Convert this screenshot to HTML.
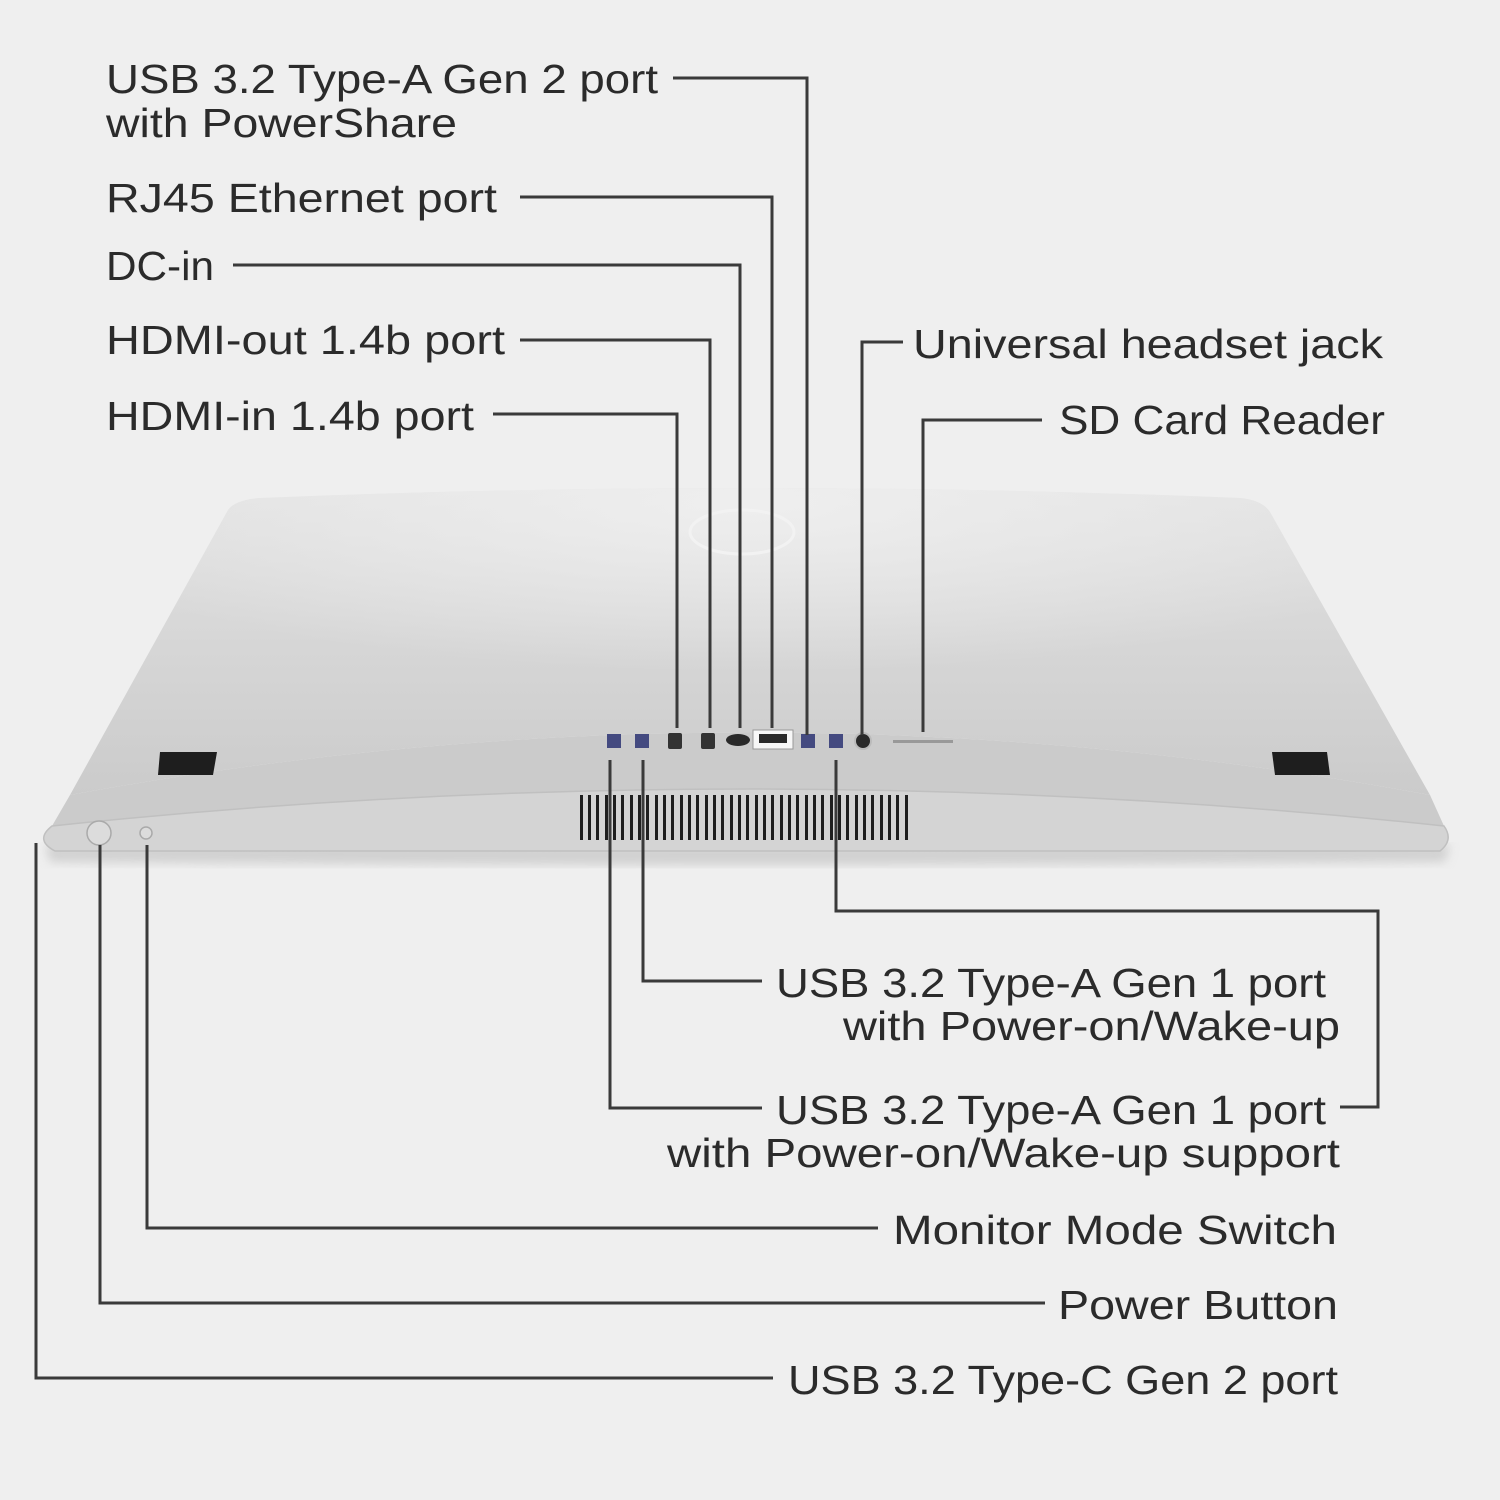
<!DOCTYPE html>
<html><head><style>
html,body{margin:0;padding:0;background:#efefef;}
svg{display:block;}
text{font-family:"Liberation Sans",sans-serif;font-size:41px;fill:#2b2b2b;}
</style></head><body>
<svg width="1500" height="1500" viewBox="0 0 1500 1500" xmlns="http://www.w3.org/2000/svg">
<defs>
<linearGradient id="top" x1="0" y1="0" x2="0" y2="1">
<stop offset="0" stop-color="#e2e2e2"/><stop offset="1" stop-color="#cbcbcb"/>
</linearGradient>
<radialGradient id="glow" cx="0.5" cy="0.05" r="0.55">
<stop offset="0" stop-color="#f0f0f0" stop-opacity="0.9"/><stop offset="1" stop-color="#f0f0f0" stop-opacity="0"/>
</radialGradient>
<filter id="sh" x="-5%" y="-5%" width="110%" height="120%"><feGaussianBlur stdDeviation="5"/></filter>
</defs>
<rect width="1500" height="1500" fill="#efefef"/>
<path d="M45,845 Q750,842 1450,845 L1445,862 Q750,868 50,862 Z" fill="#bdbdbd" filter="url(#sh)" opacity="0.6"/>
<!-- top surface -->
<path d="M228,510 Q235,500 260,498 Q750,478 1240,498 Q1262,500 1270,512 L1430,795 Q750,670 70,795 Z" fill="url(#top)"/>
<path d="M228,510 Q235,500 260,498 Q750,478 1240,498 Q1262,500 1270,512 L1430,795 Q750,670 70,795 Z" fill="url(#glow)"/>
<!-- front band -->
<path d="M70,795 Q750,670 1430,795 L1444,826 Q750,752 52,826 Z" fill="#cbcbcb"/>
<!-- lower lip -->
<path d="M52,826 Q750,752 1444,826 Q1454,840 1440,851 Q750,854 55,851 Q34,840 52,826 Z" fill="#d4d4d4" stroke="#c0c0c0" stroke-width="1.5"/>
<ellipse cx="742" cy="532" rx="52" ry="22" fill="none" stroke="#f2f2f2" stroke-width="3"/>
<path d="M160,752 L217,752 L213,775 L158,775 Z" fill="#1e1e1e"/>
<path d="M1272,752 L1327,752 L1330,775 L1275,775 Z" fill="#1e1e1e"/>
<g fill="#1e1e1e">
<rect x="580" y="795" width="3" height="45"/><rect x="588" y="795" width="3" height="45"/><rect x="596" y="795" width="3" height="45"/><rect x="605" y="795" width="3" height="45"/><rect x="613" y="795" width="3" height="45"/><rect x="621" y="795" width="3" height="45"/><rect x="630" y="795" width="3" height="45"/><rect x="638" y="795" width="3" height="45"/><rect x="646" y="795" width="3" height="45"/><rect x="655" y="795" width="3" height="45"/><rect x="663" y="795" width="3" height="45"/><rect x="671" y="795" width="3" height="45"/><rect x="680" y="795" width="3" height="45"/><rect x="688" y="795" width="3" height="45"/><rect x="696" y="795" width="3" height="45"/><rect x="705" y="795" width="3" height="45"/><rect x="713" y="795" width="3" height="45"/><rect x="721" y="795" width="3" height="45"/><rect x="730" y="795" width="3" height="45"/><rect x="738" y="795" width="3" height="45"/><rect x="746" y="795" width="3" height="45"/><rect x="755" y="795" width="3" height="45"/><rect x="763" y="795" width="3" height="45"/><rect x="771" y="795" width="3" height="45"/><rect x="780" y="795" width="3" height="45"/><rect x="788" y="795" width="3" height="45"/><rect x="796" y="795" width="3" height="45"/><rect x="805" y="795" width="3" height="45"/><rect x="813" y="795" width="3" height="45"/><rect x="821" y="795" width="3" height="45"/><rect x="830" y="795" width="3" height="45"/><rect x="838" y="795" width="3" height="45"/><rect x="846" y="795" width="3" height="45"/><rect x="855" y="795" width="3" height="45"/><rect x="863" y="795" width="3" height="45"/><rect x="871" y="795" width="3" height="45"/><rect x="880" y="795" width="3" height="45"/><rect x="888" y="795" width="3" height="45"/><rect x="896" y="795" width="3" height="45"/><rect x="905" y="795" width="3" height="45"/>
</g>
<g>
<rect x="607" y="734" width="14" height="14" fill="#444a80"/><rect x="635" y="734" width="14" height="14" fill="#444a80"/>
<rect x="668" y="733" width="14" height="16" rx="2" fill="#333"/><rect x="701" y="733" width="14" height="16" rx="2" fill="#333"/>
<ellipse cx="738" cy="740" rx="12" ry="6" fill="#2a2a2a"/>
<rect x="753" y="730" width="40" height="19" fill="#f7f7f7" stroke="#999"/><rect x="759" y="734" width="28" height="9" fill="#2a2a2a"/>
<rect x="801" y="734" width="14" height="14" fill="#444a80"/><rect x="829" y="734" width="14" height="14" fill="#444a80"/>
<circle cx="863" cy="741" r="8" fill="#2a2a2a" stroke="#bbb" stroke-width="2"/>
<rect x="893" y="740" width="60" height="3" fill="#999"/>
</g>
<circle cx="99" cy="833" r="12" fill="#dcdcdc" stroke="#aaa" stroke-width="1.5"/>
<circle cx="146" cy="833" r="6" fill="#dcdcdc" stroke="#aaa" stroke-width="1.5"/>
<g fill="none" stroke="#3a3a3a" stroke-width="3">
<polyline points="673,78 807,78 807,735"/>
<polyline points="520,197 772,197 772,728"/>
<polyline points="233,265 740,265 740,728"/>
<polyline points="520,340 710,340 710,728"/>
<polyline points="493,414 677,414 677,728"/>
<polyline points="903,342 862,342 862,735"/>
<polyline points="1042,420 923,420 923,732"/>
<polyline points="643,760 643,981 762,981"/>
<polyline points="610,760 610,1108 762,1108"/>
<polyline points="836,760 836,911 1378,911 1378,1107 1340,1107"/>
<polyline points="147,845 147,1228 878,1228"/>
<polyline points="100,845 100,1303 1045,1303"/>
<polyline points="36,843 36,1378 773,1378"/>
</g>
<text x="106" y="93" textLength="552" lengthAdjust="spacingAndGlyphs">USB 3.2 Type-A Gen 2 port</text>
<text x="106" y="137" textLength="351" lengthAdjust="spacingAndGlyphs">with PowerShare</text>
<text x="106" y="212" textLength="391" lengthAdjust="spacingAndGlyphs">RJ45 Ethernet port</text>
<text x="106" y="280" textLength="108" lengthAdjust="spacingAndGlyphs">DC-in</text>
<text x="106" y="354" textLength="399" lengthAdjust="spacingAndGlyphs">HDMI-out 1.4b port</text>
<text x="106" y="430" textLength="368" lengthAdjust="spacingAndGlyphs">HDMI-in 1.4b port</text>
<text x="913" y="358" textLength="470" lengthAdjust="spacingAndGlyphs">Universal headset jack</text>
<text x="1059" y="434" textLength="326" lengthAdjust="spacingAndGlyphs">SD Card Reader</text>
<text x="776" y="997" textLength="550" lengthAdjust="spacingAndGlyphs">USB 3.2 Type-A Gen 1 port</text>
<text x="843" y="1040" textLength="497" lengthAdjust="spacingAndGlyphs">with Power-on/Wake-up</text>
<text x="776" y="1124" textLength="550" lengthAdjust="spacingAndGlyphs">USB 3.2 Type-A Gen 1 port</text>
<text x="667" y="1167" textLength="673" lengthAdjust="spacingAndGlyphs">with Power-on/Wake-up support</text>
<text x="893" y="1244" textLength="444" lengthAdjust="spacingAndGlyphs">Monitor Mode Switch</text>
<text x="1058" y="1319" textLength="280" lengthAdjust="spacingAndGlyphs">Power Button</text>
<text x="788" y="1394" textLength="550" lengthAdjust="spacingAndGlyphs">USB 3.2 Type-C Gen 2 port</text>
</svg>
</body></html>
